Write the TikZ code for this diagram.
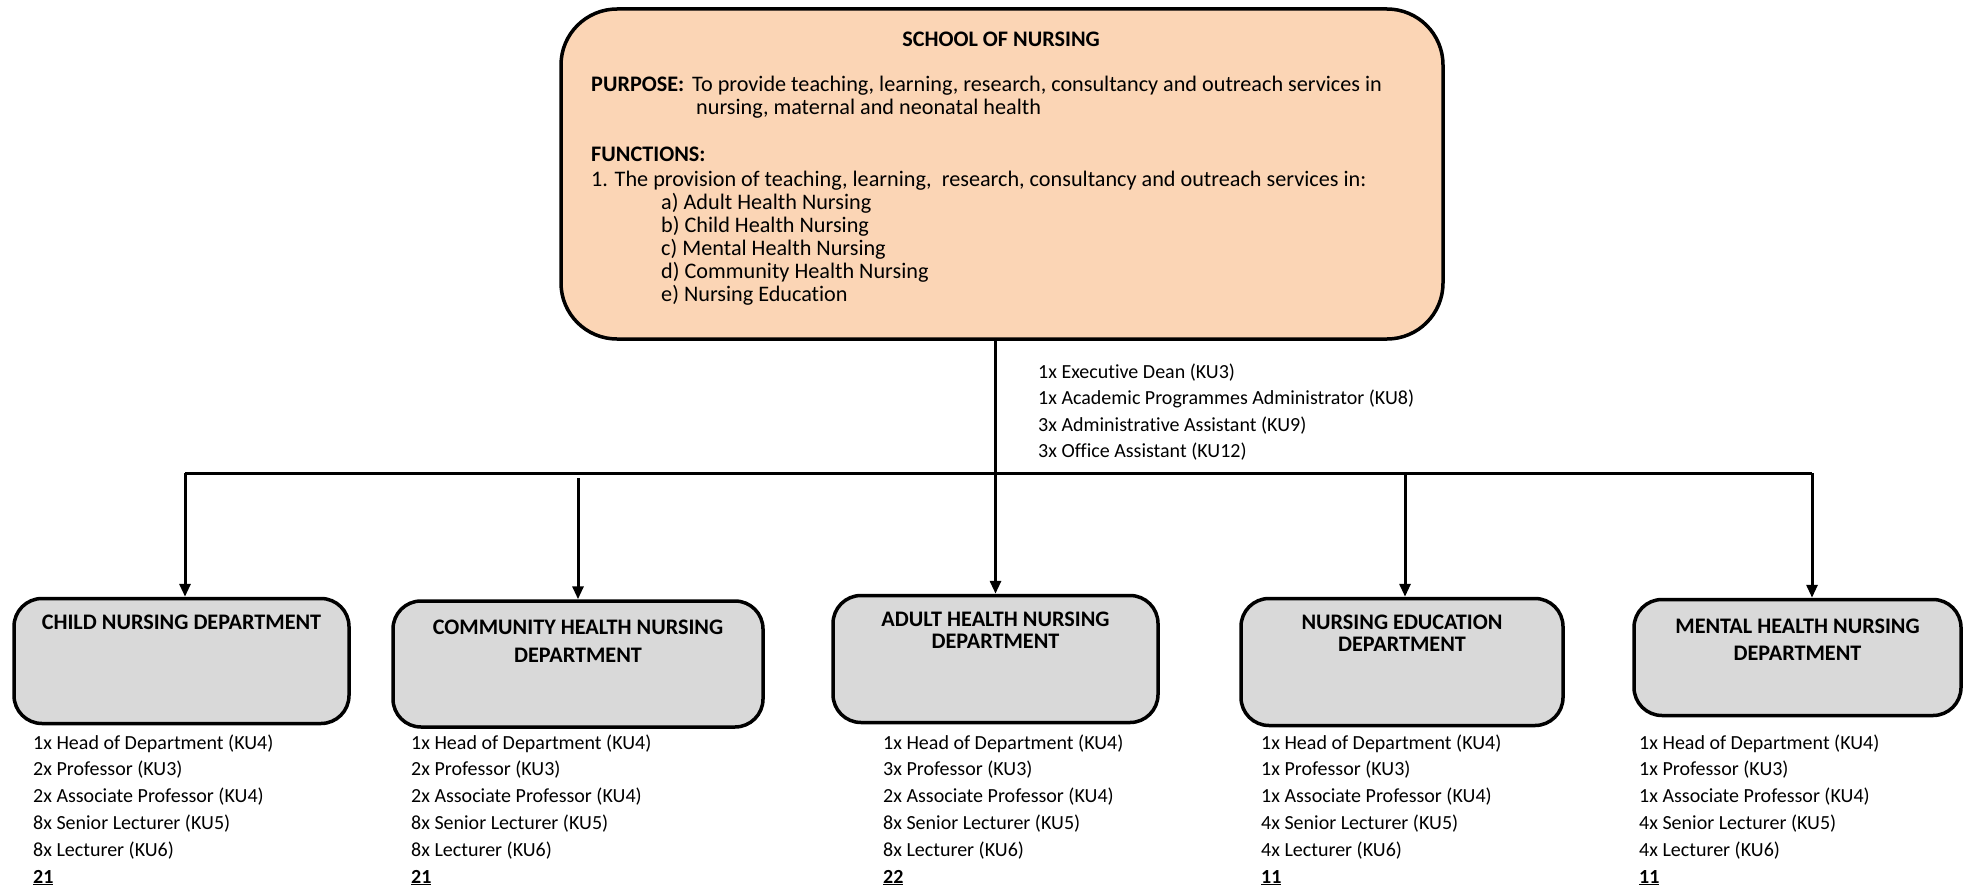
\documentclass[tikz,border=0pt]{standalone}
\usepackage{fontspec}
\setmainfont{Carlito}[Ligatures={NoCommon}]
\usetikzlibrary{arrows.meta}
\definecolor{peach}{HTML}{FBD5B5}
\definecolor{deptgray}{HTML}{D9D9D9}
\begin{document}
\begin{tikzpicture}[x=1pt,y=-1pt,
 schoolbox/.style={draw, line width=3.5pt, fill=peach, rounded corners=56pt, inner sep=0pt},
 deptbox/.style={draw, line width=3.5pt, fill=deptgray, rounded corners=28pt, inner sep=0pt},
 txt/.style={anchor=base west, inner sep=0pt, font=\fontsize{20}{24}\selectfont},
 btxt/.style={anchor=base west, inner sep=0pt, font=\fontsize{20}{24}\selectfont\bfseries},
 stxt/.style={anchor=base west, inner sep=0pt, font=\fontsize{22.2}{26}\selectfont},
 sbtxt/.style={anchor=base west, inner sep=0pt, font=\fontsize{22.2}{26}\selectfont\bfseries},
 ttl/.style={anchor=base, inner sep=0pt, align=center},
 conn/.style={line width=3pt},
 arr/.style={line width=3pt, -{Triangle[length=13pt,width=11pt]}}
]
\useasboundingbox (0,0) rectangle (1969,891);

% School box
\node[schoolbox, minimum width=882pt, minimum height=330pt] (school) at (1002,174) {};
\node[ttl, font=\fontsize{22.2}{26}\selectfont\bfseries] (stitle) at (1001,47) {SCHOOL OF NURSING};
\node[sbtxt] (purp) at (591,92) {PURPOSE:};
\node[stxt] (purp1) at (692,92) {To provide teaching, learning, research, consultancy and outreach services in};
\node[stxt] (purp2) at (696,114) {nursing, maternal and neonatal health};
\node[sbtxt] (func) at (591,161) {FUNCTIONS:};
\node[stxt] (func1) at (591,186) {1. The provision of teaching, learning,\ \ research, consultancy and outreach services in:};
\node[stxt] (fa) at (661,209) {a) Adult Health Nursing};
\node[stxt] (fb) at (661,232.2) {b) Child Health Nursing};
\node[stxt] (fc) at (661,255.4) {c) Mental Health Nursing};
\node[stxt] (fd) at (661,278.6) {d) Community Health Nursing};
\node[stxt] (fe) at (661,301.8) {e) Nursing Education};

% School staff
\node[txt] (s1) at (1038,378) {1x Executive Dean (KU3)};
\node[txt] (s2) at (1038,404.6) {1x Academic Programmes Administrator (KU8)};
\node[txt] (s3) at (1038,431.2) {3x Administrative Assistant (KU9)};
\node[txt] (s4) at (1038,457.8) {3x Office Assistant (KU12)};

% Department boxes
\node[deptbox, minimum width=335pt, minimum height=125pt] (child) at (181.5,661) {};
\node[deptbox, minimum width=370pt, minimum height=126pt] (comm) at (578,664) {};
\node[deptbox, minimum width=325pt, minimum height=127pt] (adult) at (995.5,659) {};
\node[deptbox, minimum width=322pt, minimum height=127pt] (nedu) at (1402,662) {};
\node[deptbox, minimum width=327pt, minimum height=116pt] (mental) at (1797.5,657.5) {};

% titles: anchor base = baseline of the last line
\node[ttl, font=\fontsize{22.2}{28}\selectfont\bfseries] (childt) at (181.5,629) {CHILD NURSING DEPARTMENT};
\node[ttl, font=\fontsize{22.2}{28}\selectfont\bfseries] (commt) at (578,662) {COMMUNITY HEALTH NURSING\\DEPARTMENT};
\node[ttl, font=\fontsize{22.2}{22}\selectfont\bfseries] (adultt) at (995.5,648) {ADULT HEALTH NURSING\\DEPARTMENT};
\node[ttl, font=\fontsize{22.2}{22}\selectfont\bfseries] (nedut) at (1402,651) {NURSING EDUCATION\\DEPARTMENT};
\node[ttl, font=\fontsize{22.2}{27}\selectfont\bfseries] (mentalt) at (1797.5,660) {MENTAL HEALTH NURSING\\DEPARTMENT};

% Connectors
\coordinate (jL) at (185,473);
\coordinate (jR) at (1812,473);
\coordinate (jC) at (578,478);
\coordinate (jN) at (1405,473);
\draw[conn] (jL) -- (jR);
\draw[arr] (school.south -| adult.north) -- (adult.north);
\draw[arr] (jL) -- (jL |- child.north);
\draw[arr] (jC) -- (comm.north);
\draw[arr] (jN) -- (jN |- nedu.north);
\draw[arr] (jR) -- (jR |- mental.north);

% Staff lists
\foreach \nm/\x/\a/\b/\c/\d/\e/\t in {
  cl/33/1/2/2/8/8/21,
  ml/411/1/2/2/8/8/21,
  al/883/1/3/2/8/8/22,
  nl/1261/1/1/1/4/4/11,
  hl/1639/1/1/1/4/4/11}{
  \node[txt] (\nm1) at (\x,749) {\a x Head of Department (KU4)};
  \node[txt] (\nm2) at (\x,775.8) {\b x Professor (KU3)};
  \node[txt] (\nm3) at (\x,802.6) {\c x Associate Professor (KU4)};
  \node[txt] (\nm4) at (\x,829.4) {\d x Senior Lecturer (KU5)};
  \node[txt] (\nm5) at (\x,856.2) {\e x Lecturer (KU6)};
  \node[btxt] (\nm6) at (\x,883) {\underline{\t}};
}
\end{tikzpicture}
\end{document}
